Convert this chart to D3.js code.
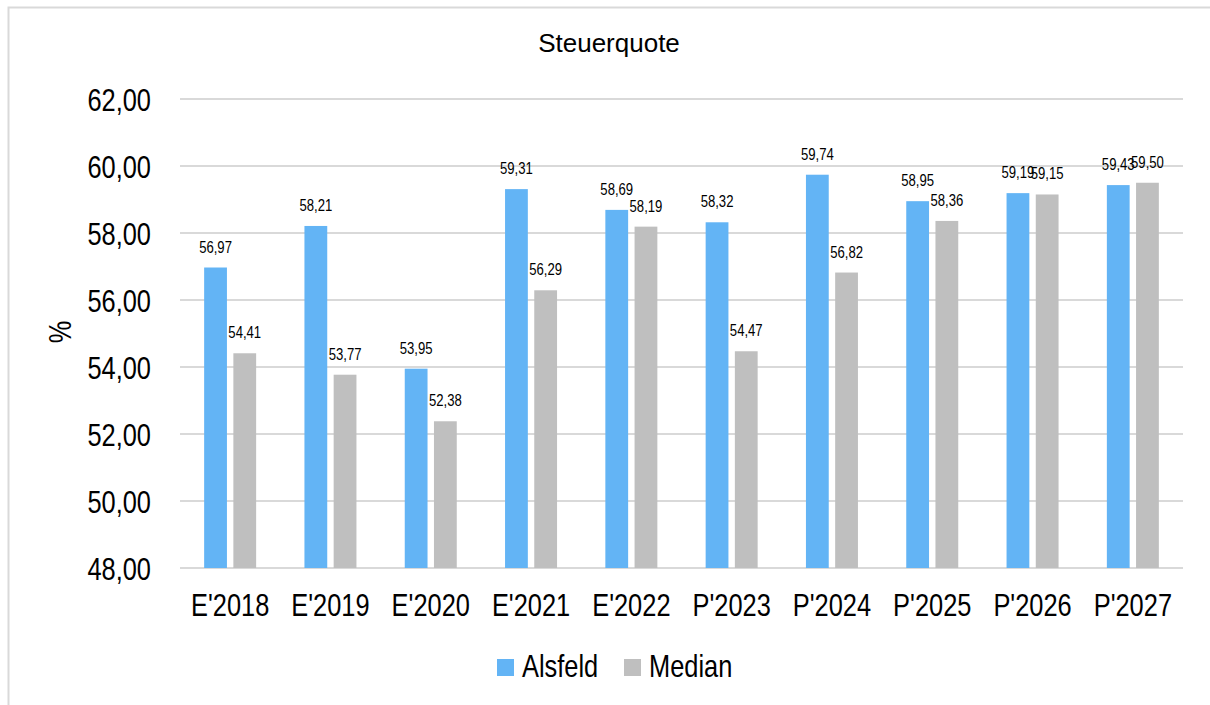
<!DOCTYPE html>
<html>
<head>
<meta charset="utf-8">
<script src="https://cdn.jsdelivr.net/npm/d3@7"></script>
<style>
  body { margin: 0; background: #fff; }
  text { font-family: "Liberation Sans", Arial, sans-serif; fill: #000; }
</style>
</head>
<body>
<svg id="chart"></svg>
<script>
// Data
var categories = ["E'2018", "E'2019", "E'2020", "E'2021", "E'2022", "P'2023", "P'2024", "P'2025", "P'2026", "P'2027"];
var seriesNames = ["Alsfeld", "Median"];
var alsfeld = [56.97, 58.21, 53.95, 59.31, 58.69, 58.32, 59.74, 58.95, 59.19, 59.43];
var median = [54.41, 53.77, 52.38, 56.29, 58.19, 54.47, 56.82, 58.36, 59.15, 59.50];
var yTicks = [48, 50, 52, 54, 56, 58, 60, 62];
var colors = { "Alsfeld": "#63B4F5", "Median": "#BFBFBF" };

var W = 1210, H = 705;
var margin = { top: 99, right: 27, bottom: 137, left: 180 },
    width = W - margin.left - margin.right,
    height = H - margin.top - margin.bottom;

var SX = 0.82; // the reference uses a narrow face, so squeeze text horizontally

var fmt = function (v) { return v.toFixed(2).replace(".", ","); };

// move x/y into a transform and squeeze horizontally
function narrow(sel) {
    sel.each(function () {
        var t = d3.select(this);
        var tx = +t.attr("x") || 0, ty = +t.attr("y") || 0;
        t.attr("x", 0).attr("y", 0)
         .attr("transform", `translate(${tx},${ty}) scale(${SX},1)`);
    });
}

var svg = d3.select("#chart").attr("width", W).attr("height", H);

// chart frame (only left and top edge are visible in the picture)
svg.append("rect")
    .attr("x", 8.5).attr("y", 7.5)
    .attr("width", 1220).attr("height", 720)
    .attr("fill", "none")
    .attr("stroke", "#D9D9D9")
    .attr("stroke-width", 2);

var g = svg.append("g").attr("transform", `translate(${margin.left},${margin.top})`);

var x = d3.scaleBand().domain(categories).range([0, width]).paddingInner(0).paddingOuter(0);
var x1 = d3.scaleBand().domain(seriesNames).range([0, 52]).paddingInner(0.22);
var y = d3.scaleLinear().domain([48, 62]).range([height, 0]);

// gridlines
g.selectAll(".grid")
    .data(yTicks)
    .enter().append("line")
    .attr("class", "grid")
    .attr("x1", 0).attr("x2", width)
    .attr("y1", d => y(d)).attr("y2", d => y(d))
    .attr("stroke", "#D9D9D9")
    .attr("stroke-width", 2);

// y axis labels
var yAxis = g.append("g").attr("class", "axis y-axis")
    .call(d3.axisLeft(y).tickValues(yTicks).tickFormat(fmt).tickSize(0).tickPadding(29));
yAxis.select(".domain").remove();
yAxis.selectAll("text").style("font-size", "31px").attr("dy", "0.36em")
    .style("font-family", null).call(narrow);

// x axis labels
var xAxis = g.append("g").attr("class", "axis x-axis")
    .attr("transform", `translate(0,${height})`)
    .call(d3.axisBottom(x).tickSize(0).tickPadding(26));
xAxis.select(".domain").remove();
xAxis.selectAll("text").style("font-size", "31px").attr("dy", "0.71em")
    .style("font-family", null).call(narrow);

// bars
var rows = categories.map((c, i) => ({ cat: c, values: [
    { name: "Alsfeld", value: alsfeld[i] },
    { name: "Median", value: median[i] }
] }));

var groups = g.selectAll(".cat")
    .data(rows)
    .enter().append("g")
    .attr("class", "cat")
    .attr("transform", d => `translate(${x(d.cat) + (x.bandwidth() - 52) / 2},0)`);

groups.selectAll("rect")
    .data(d => d.values)
    .enter().append("rect")
    .attr("x", d => x1(d.name))
    .attr("width", x1.bandwidth())
    .attr("y", d => y(d.value))
    .attr("height", d => height - y(d.value))
    .attr("fill", d => colors[d.name]);

groups.selectAll(".lbl")
    .data(d => d.values)
    .enter().append("text")
    .attr("class", "lbl")
    .attr("x", d => x1(d.name) + x1.bandwidth() / 2)
    .attr("y", d => y(d.value) - 15)
    .attr("text-anchor", "middle")
    .style("font-size", "16px")
    .text(d => fmt(d.value))
    .call(narrow);

// title
svg.append("text")
    .attr("x", 609).attr("y", 52)
    .attr("text-anchor", "middle")
    .style("font-size", "26px")
    .text("Steuerquote");

// y axis title
svg.append("text")
    .attr("transform", `translate(71,332) rotate(-90) scale(${SX},1)`)
    .attr("text-anchor", "middle")
    .style("font-size", "31px")
    .text("%");

// legend
var legendX = [497, 624];
var legend = svg.selectAll(".legend")
    .data(seriesNames)
    .enter().append("g")
    .attr("class", "legend")
    .attr("transform", (d, i) => `translate(${legendX[i]},659)`);
legend.append("rect")
    .attr("width", 17).attr("height", 17)
    .attr("fill", d => colors[d]);
legend.append("text")
    .attr("x", 25).attr("y", 18)
    .style("font-size", "31px")
    .text(d => d)
    .call(narrow);
</script>
</body>
</html>
